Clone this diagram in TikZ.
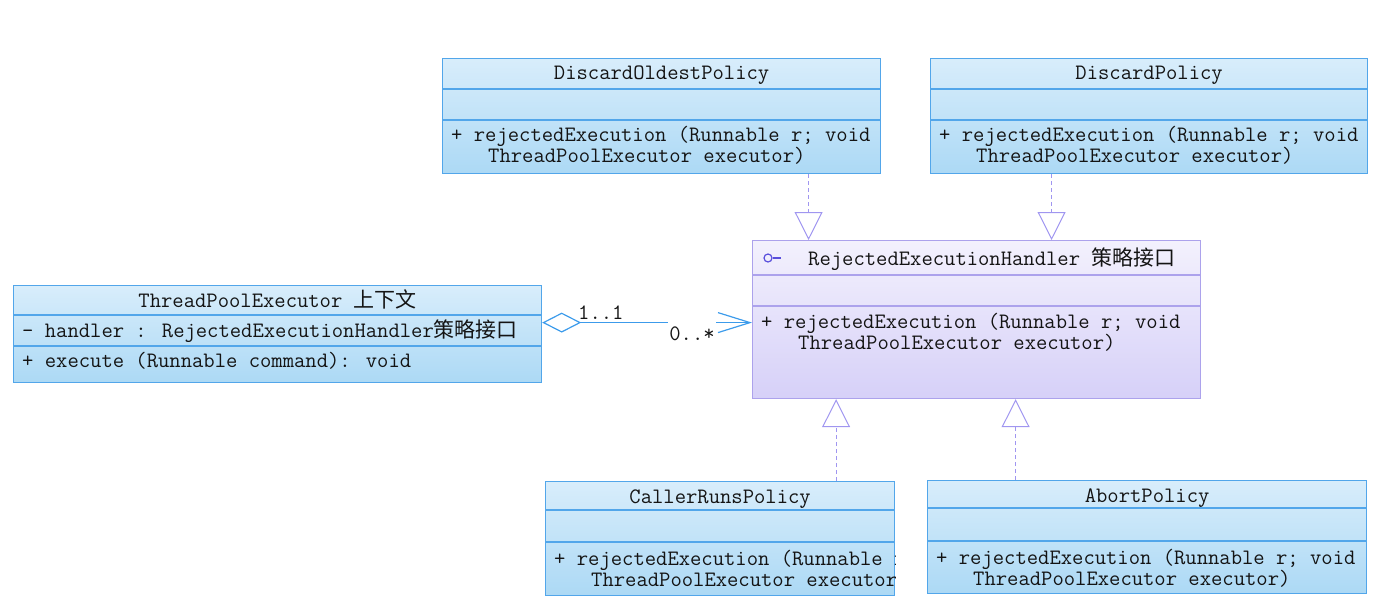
\documentclass[tikz,border=0pt]{standalone}
\usepackage{fontspec}
\newfontfamily\cjk{Noto Sans CJK SC}
\usepackage{tikz}
\usetikzlibrary{arrows.meta}
\usepackage{xcolor}

\definecolor{clsborder}{RGB}{82,166,234}
\definecolor{clstop}{RGB}{216,237,251}
\definecolor{clsbot}{RGB}{172,217,245}
\definecolor{ifborder}{RGB}{172,162,236}
\definecolor{iftop}{RGB}{243,241,253}
\definecolor{ifbot}{RGB}{214,208,248}
\definecolor{realline}{RGB}{160,150,240}
\definecolor{aggline}{RGB}{60,155,235}
\definecolor{iconcol}{RGB}{90,80,220}
\definecolor{txtgray}{RGB}{20,20,20}

\newcommand{\cn}[1]{{\cjk\fontsize{21}{23}\selectfont #1}}

\begin{document}
\begin{tikzpicture}[x=1pt,y=-1pt,
    cls/.style={rectangle,draw=clsborder,line width=1.2pt,top color=clstop,bottom color=clsbot,anchor=north west,inner sep=0pt},
    iface/.style={cls,draw=ifborder,top color=iftop,bottom color=ifbot},
    divline/.style={draw=clsborder,line width=1.2pt},
    ifdivline/.style={draw=ifborder,line width=1.2pt},
    txt/.style={font={\ttfamily\fontsize{22}{22}\selectfont},text=txtgray,inner sep=0pt,text height=16pt,text depth=2pt},
    realize/.style={draw=realline,line width=1pt,dash pattern=on 4pt off 3pt,-{Triangle[open,length=28pt,width=28pt]}},
    agg/.style={draw=aggline,line width=1.2pt,{Diamond[open,length=39pt,width=20pt]}-{Straight Barb[length=32pt,width=20pt]}}
]
\useasboundingbox (0,0) rectangle (1400,599);

% Class boxes
\node[cls,minimum width=438pt,minimum height=115pt] (dop) at (442,58) {};
\node[cls,minimum width=437pt,minimum height=115pt] (dp) at (930,58) {};
\node[iface,minimum width=448pt,minimum height=158pt] (handler) at (752,240) {};
\node[cls,minimum width=528pt,minimum height=97pt] (tpe) at (13,285) {};
\node[cls,minimum width=349pt,minimum height=114pt] (crp) at (545,481) {};
\node[cls,minimum width=439pt,minimum height=113pt] (ap) at (927,480) {};

% Compartment lines
\draw[divline] ([yshift=-31pt]dop.north west) -- ([yshift=-31pt]dop.north east);
\draw[divline] ([yshift=-62pt]dop.north west) -- ([yshift=-62pt]dop.north east);
\draw[divline] ([yshift=-31pt]dp.north west) -- ([yshift=-31pt]dp.north east);
\draw[divline] ([yshift=-62pt]dp.north west) -- ([yshift=-62pt]dp.north east);
\draw[ifdivline] ([yshift=-35pt]handler.north west) -- ([yshift=-35pt]handler.north east);
\draw[ifdivline] ([yshift=-66pt]handler.north west) -- ([yshift=-66pt]handler.north east);
\draw[divline] ([yshift=-30pt]tpe.north west) -- ([yshift=-30pt]tpe.north east);
\draw[divline] ([yshift=-61pt]tpe.north west) -- ([yshift=-61pt]tpe.north east);
\draw[divline] ([yshift=-29pt]crp.north west) -- ([yshift=-29pt]crp.north east);
\draw[divline] ([yshift=-61pt]crp.north west) -- ([yshift=-61pt]crp.north east);
\draw[divline] ([yshift=-28pt]ap.north west) -- ([yshift=-28pt]ap.north east);
\draw[divline] ([yshift=-61pt]ap.north west) -- ([yshift=-61pt]ap.north east);

% DiscardOldestPolicy
\node[txt] at ([yshift=-15pt]dop.north) {DiscardOldestPolicy};
\node[txt,anchor=west] at ([xshift=9pt,yshift=-77pt]dop.north west) {+ rejectedExecution (Runnable r; void};
\node[txt,anchor=west] at ([xshift=46pt,yshift=-98pt]dop.north west) {ThreadPoolExecutor executor)};

% DiscardPolicy
\node[txt] at ([yshift=-15pt]dp.north) {DiscardPolicy};
\node[txt,anchor=west] at ([xshift=9pt,yshift=-77pt]dp.north west) {+ rejectedExecution (Runnable r; void};
\node[txt,anchor=west] at ([xshift=46pt,yshift=-98pt]dp.north west) {ThreadPoolExecutor executor)};

% RejectedExecutionHandler (interface)
\node[circle,draw=iconcol,line width=1.2pt,minimum size=8pt,inner sep=0pt] (hicon) at ([xshift=16pt,yshift=-18pt]handler.north west) {};
\draw[iconcol,line width=1.2pt] (hicon.east) -- ++(8,0);
\node[txt,anchor=west] at ([xshift=56pt,yshift=-18pt]handler.north west) {RejectedExecutionHandler \cn{策略接口}};
\node[txt,anchor=west] at ([xshift=9pt,yshift=-81pt]handler.north west) {+ rejectedExecution (Runnable r; void};
\node[txt,anchor=west] at ([xshift=46pt,yshift=-102pt]handler.north west) {ThreadPoolExecutor executor)};

% ThreadPoolExecutor (context)
\node[txt] at ([yshift=-15pt]tpe.north) {ThreadPoolExecutor \cn{上下文}};
\node[txt,anchor=west] at ([xshift=9pt,yshift=-45pt]tpe.north west) {- handler : RejectedExecutionHandler\cn{策略接口}};
\node[txt,anchor=west] at ([xshift=9pt,yshift=-75pt]tpe.north west) {+ execute (Runnable command): void};

% CallerRunsPolicy (text cut by the box)
\node[txt] at ([yshift=-15pt]crp.north) {CallerRunsPolicy};
\begin{scope}
\clip (crp.north west) rectangle (crp.south east);
\node[txt,anchor=west] at ([xshift=9pt,yshift=-77pt]crp.north west) {+ rejectedExecution (Runnable r; void};
\node[txt,anchor=west] at ([xshift=46pt,yshift=-98pt]crp.north west) {ThreadPoolExecutor executor)};
\end{scope}

% AbortPolicy
\node[txt] at ([yshift=-15pt]ap.north) {AbortPolicy};
\node[txt,anchor=west] at ([xshift=9pt,yshift=-77pt]ap.north west) {+ rejectedExecution (Runnable r; void};
\node[txt,anchor=west] at ([xshift=46pt,yshift=-98pt]ap.north west) {ThreadPoolExecutor executor)};

% Realizations
\draw[realize] ([xshift=147pt]dop.south) -- ([xshift=147pt]dop.south |- handler.north);
\draw[realize] ([xshift=-97.5pt]dp.south) -- ([xshift=-97.5pt]dp.south |- handler.north);
\draw[realize] ([xshift=116pt]crp.north) -- ([xshift=116pt]crp.north |- handler.south);
\draw[realize] ([xshift=-131.5pt]ap.north) -- ([xshift=-131.5pt]ap.north |- handler.south);

% Aggregation
\draw[agg] ([yshift=11.5pt]tpe.east) -- ([yshift=11.5pt]tpe.east -| handler.west);
\node[txt,anchor=west] (mone) at (578,312) {1..1};
\node[txt,fill=white,inner xsep=1pt,inner ysep=4pt] (many) at (692,333) {0..*};

\end{tikzpicture}
\end{document}
